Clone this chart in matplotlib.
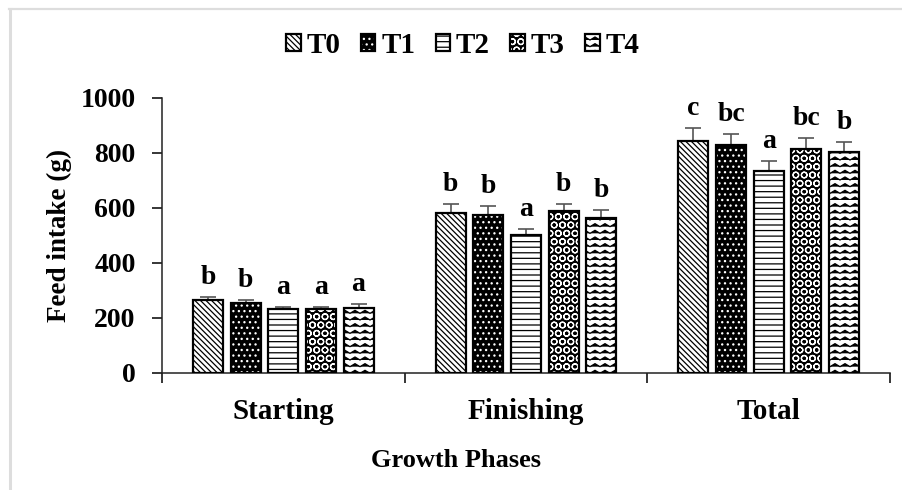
import warnings
import numpy as np
import matplotlib
matplotlib.use("Agg")
import matplotlib.pyplot as plt
import matplotlib.hatch as mhatch
from matplotlib.path import Path
from matplotlib.lines import Line2D
from matplotlib.legend_handler import HandlerTuple

warnings.filterwarnings("ignore")

# -------------------------------
# data
# -------------------------------
phases = ["Starting", "Finishing", "Total"]
treatments = ["T0", "T1", "T2", "T3", "T4"]

t0_mean = [264, 582, 843]
t1_mean = [255, 573, 827]
t2_mean = [231, 500, 734]
t3_mean = [231, 587, 813]
t4_mean = [236, 563, 801]

t0_err = [12, 33, 45]
t1_err = [9, 32, 40]
t2_err = [8, 24, 35]
t3_err = [8, 28, 39]
t4_err = [16, 28, 38]

t0_sig = ["b", "b", "c"]
t1_sig = ["b", "b", "bc"]
t2_sig = ["a", "a", "a"]
t3_sig = ["a", "b", "bc"]
t4_sig = ["a", "b", "b"]

yticks = [0, 200, 400, 600, 800, 1000]


# zigzag fill for T4 (matplotlib has no wavy hatch)
class ZigZagHatch(mhatch.HatchPatternBase):
    def __init__(self, hatch, density):
        self.num_lines = hatch.count("z") * 5
        self.num_peaks = 10
        self.num_vertices = self.num_lines * (2 * self.num_peaks + 1)

    def set_vertices_and_codes(self, vertices, codes):
        n = self.num_lines
        m = 2 * self.num_peaks + 1
        xs = np.linspace(0, 1, m)
        off = np.where(np.arange(m) % 2 == 0, 0.0, 0.03)
        for i in range(n):
            vertices[i * m:(i + 1) * m, 0] = xs
            vertices[i * m:(i + 1) * m, 1] = i / n + off
            codes[i * m] = Path.MOVETO
            codes[i * m + 1:(i + 1) * m] = Path.LINETO


mhatch._hatch_types.append(ZigZagHatch)

plt.rcParams["font.family"] = ["Liberation Serif", "DejaVu Serif"]
plt.rcParams["font.weight"] = "bold"
plt.rcParams["hatch.linewidth"] = 0.9

means = [t0_mean, t1_mean, t2_mean, t3_mean, t4_mean]
errs = [t0_err, t1_err, t2_err, t3_err, t4_err]
sigs = [t0_sig, t1_sig, t2_sig, t3_sig, t4_sig]
# face colour, hatch colour, hatch
styles = [("white", "black", "\\\\\\\\\\\\"),
          ("black", "white", "..."),
          ("white", "black", "---"),
          ("black", "white", "OO"),
          ("white", "black", "zzz")]

fig = plt.figure(figsize=(9.02, 4.9), dpi=100)
ax = fig.add_axes([0.1796, 0.2388, 0.8071, 0.5622])

x = np.arange(len(phases)) + 0.5
step = 0.155
width = 0.124

handles = []
for i in range(len(treatments)):
    pos = x + (i - 2) * step
    face, hcol, hatch = styles[i]
    ax.errorbar(pos, means[i], yerr=errs[i], fmt="none", ecolor="#555555",
                elinewidth=1.2, capsize=6, capthick=1.2, zorder=1)
    fill = ax.bar(pos, means[i], width, color=face, edgecolor=hcol,
                  hatch=hatch, linewidth=0, zorder=2)
    edge = ax.bar(pos, means[i], width, fill=False, edgecolor="black",
                  linewidth=1.6, zorder=3)
    handles.append((fill.patches[0], edge.patches[0]))
    for p, v, e, s in zip(pos, means[i], errs[i], sigs[i]):
        ax.annotate(s, (p, v + e), xytext=(0, 5), textcoords="offset points",
                    ha="center", va="bottom", fontsize=20, fontweight="bold")

ax.set_xlim(0, 3)
ax.set_ylim(0, 1000)
ax.set_yticks(yticks)
ax.set_xticks([0, 1, 2, 3])
ax.set_xticklabels([])
ax.set_xticks(x, minor=True)
ax.set_xticklabels(phases, minor=True)

ax.tick_params(axis="y", length=7, width=1.1, pad=12, labelsize=20)
ax.tick_params(axis="x", which="major", length=7, width=1.1)
ax.tick_params(axis="x", which="minor", length=0, pad=18, labelsize=21)
for side in ["top", "right"]:
    ax.spines[side].set_visible(False)
for side in ["left", "bottom"]:
    ax.spines[side].set_linewidth(1.1)
    ax.spines[side].set_color("#222222")

ax.set_ylabel("Feed intake (g)", fontsize=19.5, fontweight="bold")
ax.yaxis.set_label_coords(-0.124, 0.5)
fig.text(0.5055, 0.061, "Growth Phases", ha="center", va="center",
         fontsize=19, fontweight="bold")

fig.legend(handles, treatments, loc="center", bbox_to_anchor=(0.513, 0.908),
           ncol=5, frameon=False, prop={"size": 21, "weight": "bold"},
           handlelength=0.5, handleheight=0.5, handletextpad=0.2,
           columnspacing=0.7, handler_map={tuple: HandlerTuple(ndivide=1)})

# light frame lines at top and left of the image
fig.add_artist(Line2D([0.01, 1.0], [0.9826, 0.9826], transform=fig.transFigure,
                      color="#dddddd", linewidth=1.6))
fig.add_artist(Line2D([0.0111, 0.0111], [0.0, 0.9826], transform=fig.transFigure,
                      color="#dddddd", linewidth=2.2))

fig.savefig("out.png", dpi=100)
